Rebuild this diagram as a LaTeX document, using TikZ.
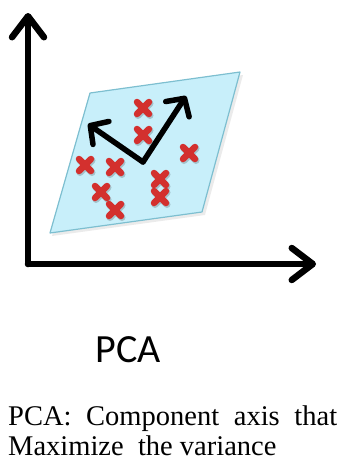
\documentclass[tikz,border=0pt]{standalone}
\usepackage{fontspec}
\setmainfont{Liberation Serif}
\newfontfamily\titlefont{Carlito}
\usetikzlibrary{arrows.meta}

\definecolor{planefill}{HTML}{C8EFFA}
\definecolor{planeedge}{HTML}{7DBFD0}
\definecolor{crossred}{HTML}{D3302E}

\tikzset{
  axisline/.style={line width=6.5pt, line cap=round, line join=round,
    -{Straight Barb[length=21pt,width=32pt,line cap=round,line join=round]}},
  pcline/.style={line width=5.5pt, line cap=round, line join=round,
    -{Straight Barb[length=13pt,width=28pt,line cap=round,line join=round]}},
  plane/.style={fill=planefill, draw=planeedge, line width=1.2pt, line join=round},
  pics/redcross/.style={code={
    \draw[line width=7pt, line cap=round, black, opacity=0.18]
      (-5,-4.5) -- (7,7.5) (-5,7.5) -- (7,-4.5);
    \draw[line width=6.5pt, line cap=round, crossred]
      (-6,-6) -- (6,6) (-6,6) -- (6,-6);
  }}
}

\begin{document}
\begin{tikzpicture}[x=1pt,y=-1pt]
\useasboundingbox (0,0) rectangle (339,463);

% data plane
\fill[black, opacity=0.08] (92,96) -- (243,75) -- (205,215) -- (52,236) -- cycle;
\draw[plane] (90,93) -- (240,72) -- (202,212) -- (50,233) -- cycle;

% coordinate axes
\coordinate (O) at (28,264);
\coordinate (ytip) at (28,13);
\coordinate (xtip) at (316,264);
\draw[axisline] (O) -- (ytip);
\draw[axisline] (O) -- (xtip);

% sample points
\foreach \p in {(143,108),(143,135),(189,153),(85,165),(115,167),
                (160,179),(160,197),(101,192),(115,210)}
  \pic at \p {redcross};

% principal component directions
\coordinate (V) at (143,162);
\coordinate (pc1) at (186,96);
\coordinate (pc2) at (88,124);
\draw[pcline] (V) -- (pc1);
\draw[pcline] (V) -- (pc2);

% labels
\node[anchor=base, inner sep=0pt, font=\titlefont\fontsize{40}{42}\selectfont]
  (title) at (128,362) {PCA};
\node[anchor=base west, inner sep=0pt, align=left,
      font=\fontsize{28.5}{30}\selectfont] (caption) at (8,455)
  {\makebox[329pt][s]{PCA: Component axis that}\\Maximize\ \ the variance};
\end{tikzpicture}
\end{document}
